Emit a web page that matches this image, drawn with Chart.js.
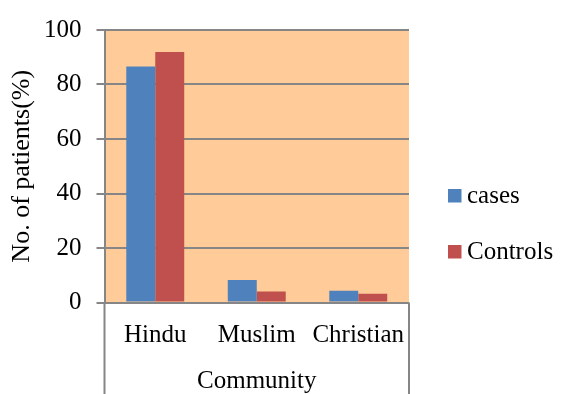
<!DOCTYPE html>
<html>
<head>
<meta charset="utf-8">
<script src="https://cdn.jsdelivr.net/npm/chart.js@4.4.1/dist/chart.umd.min.js"></script>
<style>
  html, body { margin: 0; padding: 0; background: #fff; overflow: hidden; }
  #wrap { width: 561px; height: 394px; }
</style>
</head>
<body>
<div id="wrap"><canvas id="communityChart" width="561" height="394"></canvas></div>
<script>
// patients by community, in percent
const categories = ['Hindu', 'Muslim', 'Christian'];
const casesValues = [86.6, 8.3, 4.3];
const controlsValues = [91.9, 4.0, 3.2];
const yTicks = [0, 20, 40, 60, 80, 100];

const SERIF = "'Liberation Serif', 'Times New Roman', serif";
const GRID = '#868686';

// orange plot background
const plotBg = {
    id: 'plotBg',
    beforeDraw(chart) {
        const { ctx, chartArea: a } = chart;
        ctx.save();
        ctx.fillStyle = '#ffcc99';
        ctx.fillRect(a.left, a.top, a.right - a.left, a.bottom - a.top);
        ctx.restore();
    }
};

// category box edges under the axis + legend on the right
const extras = {
    id: 'extras',
    afterDraw(chart) {
        const { ctx, chartArea: a, height } = chart;
        ctx.save();
        ctx.strokeStyle = GRID;
        ctx.lineWidth = 2;
        ctx.beginPath();
        ctx.moveTo(a.left, a.bottom);
        ctx.lineTo(a.left, height);
        ctx.moveTo(a.right, a.bottom);
        ctx.lineTo(a.right, height);
        ctx.stroke();

        ctx.font = '25px ' + SERIF;
        ctx.textBaseline = 'middle';
        chart.data.datasets.forEach((ds, i) => {
            const y = 196 + i * 56;
            ctx.fillStyle = ds.backgroundColor;
            ctx.fillRect(448, y - 7, 13.5, 13.5);
            ctx.fillStyle = '#000';
            ctx.fillText(ds.label, 467, y);
        });
        ctx.restore();
    }
};

new Chart(document.getElementById('communityChart'), {
    type: 'bar',
    data: {
        labels: categories,
        datasets: [
            { label: 'cases', data: casesValues, backgroundColor: '#4f81bd' },
            { label: 'Controls', data: controlsValues, backgroundColor: '#c0504d' }
        ]
    },
    options: {
        responsive: false,
        animation: false,
        devicePixelRatio: 1,
        layout: { padding: { top: 25, right: 152, left: 0, bottom: 0 } },
        categoryPercentage: 0.571,
        barPercentage: 1,
        plugins: { legend: { display: false }, tooltip: { enabled: false } },
        scales: {
            x: {
                grid: { display: false, drawTicks: false },
                border: { display: false },
                ticks: { color: '#000', font: { family: SERIF, size: 25 }, padding: 18, maxRotation: 0 },
                title: {
                    display: true, text: 'Community', color: '#000',
                    font: { family: SERIF, size: 25, lineHeight: 1.0 }, padding: 0
                },
                afterFit(scale) { scale.height = 91.5; }
            },
            y: {
                min: 0, max: 100,
                afterBuildTicks(scale) { scale.ticks = yTicks.map(v => ({ value: v })); },
                grid: { color: GRID, lineWidth: 2, tickLength: 8 },
                border: { color: GRID, width: 2 },
                ticks: { color: '#000', font: { family: SERIF, size: 25 }, padding: 15 },
                title: {
                    display: true, text: 'No. of patients(%)', color: '#000',
                    font: { family: SERIF, size: 26 }, padding: { top: 7, bottom: 0 }
                },
                afterFit(scale) { scale.width = 104.5; }
            }
        }
    },
    plugins: [plotBg, extras]
});
</script>
</body>
</html>
